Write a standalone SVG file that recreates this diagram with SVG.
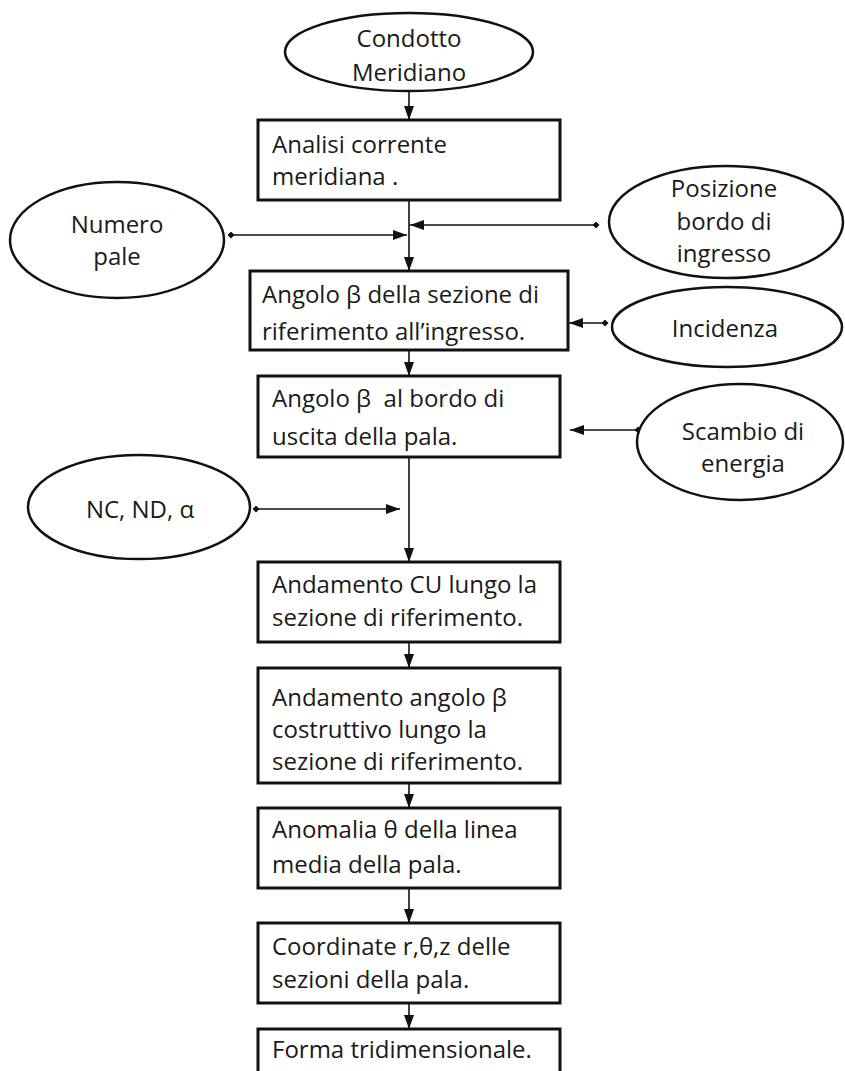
<svg xmlns="http://www.w3.org/2000/svg" width="845" height="1071" viewBox="0 0 845 1071">
<style>
.box{fill:#fff;stroke:#111;stroke-width:3}
.ell{fill:#fff;stroke:#111;stroke-width:2.5}
.t{font-family:"Open Sans","Noto Sans",sans-serif;font-size:24px;fill:#1a1a1a;white-space:pre}
.c{text-anchor:middle}
.con{stroke:#111;stroke-width:1.6;fill:none}
</style>
<defs>
<marker id="arr" viewBox="0 0 14 10" refX="14" refY="5" markerWidth="14" markerHeight="10" markerUnits="userSpaceOnUse" orient="auto"><path d="M0,0 L14,5 L0,10 z" fill="#111"/></marker>
<marker id="dia" viewBox="0 0 8 8" refX="4" refY="4" markerWidth="7" markerHeight="7" markerUnits="userSpaceOnUse" orient="auto"><path d="M0,4 L4,0 L8,4 L4,8 z" fill="#111"/></marker>
</defs>
<rect width="845" height="1071" fill="#fff"/>
<g id="connectors">
<line class="con" x1="409" y1="91" x2="409" y2="120" marker-end="url(#arr)"/>
<line class="con" x1="409" y1="200" x2="409" y2="271" marker-end="url(#arr)"/>
<line class="con" x1="231" y1="235" x2="407" y2="235" marker-start="url(#dia)" marker-end="url(#arr)"/>
<line class="con" x1="596" y1="225" x2="410" y2="225" marker-start="url(#dia)" marker-end="url(#arr)"/>
<line class="con" x1="605" y1="323" x2="569" y2="323" marker-start="url(#dia)" marker-end="url(#arr)"/>
<line class="con" x1="409" y1="350" x2="409" y2="376" marker-end="url(#arr)"/>
<line class="con" x1="638" y1="430" x2="570" y2="430" marker-start="url(#dia)" marker-end="url(#arr)"/>
<line class="con" x1="256" y1="509" x2="400" y2="509" marker-start="url(#dia)" marker-end="url(#arr)"/>
<line class="con" x1="409" y1="457" x2="409" y2="562" marker-end="url(#arr)"/>
<line class="con" x1="409" y1="642" x2="409" y2="668" marker-end="url(#arr)"/>
<line class="con" x1="409" y1="783" x2="409" y2="808" marker-end="url(#arr)"/>
<line class="con" x1="409" y1="888" x2="409" y2="923" marker-end="url(#arr)"/>
<line class="con" x1="409" y1="1003" x2="409" y2="1029" marker-end="url(#arr)"/>
</g>
<g id="condotto">
<ellipse class="ell" cx="409" cy="52" rx="124" ry="39"/>
<text class="t c" x="409" y="47">Condotto</text>
<text class="t c" x="409" y="81">Meridiano</text>
</g>
<g id="analisi">
<rect class="box" x="258" y="120" width="302" height="80"/>
<text class="t" x="272" y="153">Analisi corrente</text>
<text class="t" x="272" y="185">meridiana .</text>
</g>
<g id="numero">
<ellipse class="ell" cx="117" cy="240" rx="107" ry="58"/>
<text class="t c" x="117" y="233">Numero</text>
<text class="t c" x="117" y="265">pale</text>
</g>
<g id="posizione">
<ellipse class="ell" cx="726" cy="222" rx="117" ry="56"/>
<text class="t c" x="724" y="197">Posizione</text>
<text class="t c" x="724" y="230">bordo di</text>
<text class="t c" x="724" y="262">ingresso</text>
</g>
<g id="angolo-ingresso">
<rect class="box" x="250" y="271" width="318" height="79"/>
<text class="t" x="262" y="303">Angolo β della sezione di</text>
<text class="t" x="262" y="340">riferimento all’ingresso.</text>
</g>
<g id="incidenza">
<ellipse class="ell" cx="727" cy="327" rx="115" ry="40"/>
<text class="t c" x="725" y="337">Incidenza</text>
</g>
<g id="angolo-uscita">
<rect class="box" x="258" y="376" width="302" height="81"/>
<text class="t" x="272" y="407">Angolo β  al bordo di</text>
<text class="t" x="272" y="445">uscita della pala.</text>
</g>
<g id="scambio">
<ellipse class="ell" cx="740" cy="442" rx="103" ry="58"/>
<text class="t c" x="743" y="440">Scambio di</text>
<text class="t c" x="743" y="472">energia</text>
</g>
<g id="nc">
<ellipse class="ell" cx="139" cy="507" rx="111" ry="52"/>
<text class="t c" x="140" y="518">NC, ND, α</text>
</g>
<g id="andamento-cu">
<rect class="box" x="258" y="562" width="302" height="80"/>
<text class="t" x="272" y="593">Andamento CU lungo la</text>
<text class="t" x="272" y="626">sezione di riferimento.</text>
</g>
<g id="andamento-beta">
<rect class="box" x="258" y="668" width="302" height="115"/>
<text class="t" x="272" y="706">Andamento angolo β</text>
<text class="t" x="272" y="738">costruttivo lungo la</text>
<text class="t" x="272" y="770">sezione di riferimento.</text>
</g>
<g id="anomalia">
<rect class="box" x="258" y="808" width="302" height="80"/>
<text class="t" x="272" y="838">Anomalia θ della linea</text>
<text class="t" x="272" y="873">media della pala.</text>
</g>
<g id="coordinate">
<rect class="box" x="258" y="923" width="302" height="80"/>
<text class="t" x="272" y="955">Coordinate r,θ,z delle</text>
<text class="t" x="272" y="988">sezioni della pala.</text>
</g>
<g id="forma">
<rect class="box" x="258" y="1029" width="302" height="46"/>
<text class="t" x="272" y="1058">Forma tridimensionale.</text>
</g>
</svg>
